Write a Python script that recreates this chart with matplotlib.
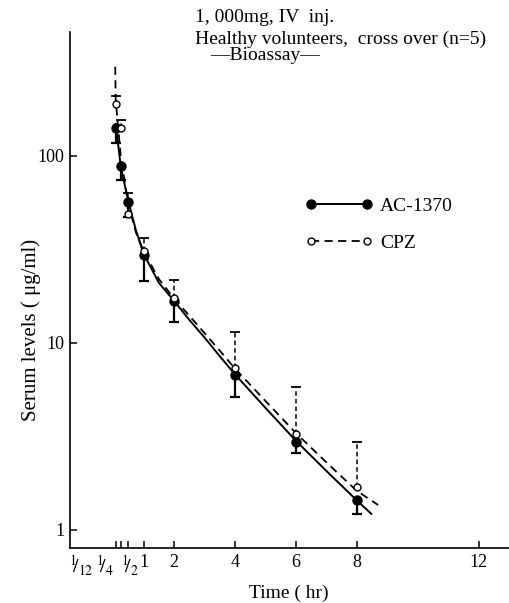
import matplotlib
matplotlib.use('Agg')
import matplotlib.pyplot as plt
from matplotlib.lines import Line2D
import matplotlib.transforms as mtransforms

plt.rcParams['font.family'] = ['Liberation Serif', 'DejaVu Serif']
plt.rcParams['mathtext.fontset'] = 'stix'

# ---- data ----
times = [1/12, 1/4, 1/2, 1, 2, 4, 6, 8]
ac_mean = [141, 88, 57, 29.5, 16.8, 6.74, 2.97, 1.45]
ac_lower = [117, 74, 47, 21.5, 12.9, 5.12, 2.59, 1.21]
cpz_mean = [190, 141, 49, 31, 17.5, 7.38, 3.25, 1.70]
cpz_upper = [208, 156, 63, 36.3, 21.7, 11.5, 5.84, 2.94]

ac_curve_t = [1/12, 0.25, 0.5, 0.75, 1, 1.5, 2, 2.5, 3, 3.5, 4, 5, 6, 7, 8, 8.5]
ac_curve_v = [150, 88, 57, 40, 30, 21, 16.8, 13.3, 10.7, 8.5, 6.8, 4.5, 3.0, 2.07, 1.44, 1.21]
cpz_curve_t = [0.07, 1/12, 0.25, 0.5, 0.75, 1, 1.5, 2, 2.5, 3, 3.5, 4, 5, 6, 7, 8, 8.7]
cpz_curve_v = [300, 200, 100, 55, 39, 31, 22, 17.3, 14, 11.3, 9.1, 7.3, 4.9, 3.3, 2.3, 1.62, 1.36]

xticks = [1/12, 1/4, 1/2, 1, 2, 4, 6, 8, 12]
xtick_labels = ['', '', '', '1', '2', '4', '6', '8', '12']
frac_labels = [r'$^{1}\!\!/_{12}$', r'$^{1}\!\!/_{4}$', r'$^{1}\!\!/_{2}$']
frac_label_x = [-1.05, -0.27, 0.55]
yticks = [1, 10, 100]
ytick_labels = ['1', '10', '100']

FS = 13
FT = 14
W, H = 510, 603
fig = plt.figure(figsize=(W / 100, H / 100), dpi=100)
ax = fig.add_axes([70 / W, 1 - 548 / H, 440 / W, 516 / H])
ax.set_yscale('log')
ax.set_xlim(-1.415, 13.03)
ax.set_ylim(0.801, 460)

for s in ['top', 'right']:
    ax.spines[s].set_visible(False)
for s in ['left', 'bottom']:
    ax.spines[s].set_linewidth(1.2)

ax.set_xticks(xticks)
ax.set_xticklabels(xtick_labels, fontsize=FS)
ax.set_yticks(yticks)
ax.set_yticklabels(ytick_labels, fontsize=FS)
ax.yaxis.set_minor_locator(matplotlib.ticker.NullLocator())
ax.tick_params(axis='both', direction='in', length=5, width=1.1, pad=4)

trans = mtransforms.blended_transform_factory(ax.transData, ax.transAxes)
for lx, lab in zip(frac_label_x, frac_labels):
    ax.text(lx, -0.010, lab, transform=trans, ha='center', va='top', fontsize=FS + 1)

# curves
ax.plot(ac_curve_t, ac_curve_v, color='k', lw=1.4, solid_capstyle='butt', zorder=2)
ax.plot(cpz_curve_t, cpz_curve_v, color='k', lw=1.3, ls=(0, (4.5, 3)), zorder=2)

# error bars
ax.vlines(times, ac_lower, ac_mean, colors='k', lw=1.6, zorder=3)
ax.plot(times, ac_lower, ls='none', marker='_', ms=7, mew=1.6, color='k', zorder=3)
ax.vlines(times, cpz_mean, cpz_upper, colors='k', lw=1.1, linestyles=(0, (3, 2)), zorder=3)
ax.plot(times, cpz_upper, ls='none', marker='_', ms=7, mew=1.3, color='k', zorder=3)

# markers
ax.plot(times, ac_mean, ls='none', marker='o', ms=6.5, mfc='k', mec='k', zorder=5)
ax.plot(times, cpz_mean, ls='none', marker='o', ms=5, mfc='white', mec='k', mew=1.0, zorder=6)

# legend
h1 = Line2D([], [], color='k', lw=1.4, marker='o', ms=6.5, mfc='k', mec='k')
h2 = Line2D([], [], color='k', lw=1.3, ls=(0, (4.5, 3)), marker='o', ms=5, mfc='white', mec='k')
leg = ax.legend([h1, h2], ['AC-1370', 'CPZ'], loc='upper left',
                bbox_to_anchor=((305 - 70) / 440, (548 - 197) / 516),
                frameon=False, numpoints=2, handlelength=3.5, handletextpad=0.35,
                labelspacing=1.0, borderpad=0, borderaxespad=0, fontsize=FT)

ax.set_xlabel('Time ( hr)', fontsize=FT)
ax.xaxis.set_label_coords((289 - 70) / 440, -(593 - 548) / 516)
ax.xaxis.label.set_va('center')
ax.set_ylabel('Serum levels ( μg/ml)', fontsize=15)
ax.yaxis.set_label_coords(-(70 - 31) / 440, (548 - 330) / 516)
ax.yaxis.label.set_va('center')

fig.text(195 / W, 1 - 17 / H, '1, 000mg, IV  inj.', fontsize=FT, ha='left', va='center')
fig.text(195 / W, 1 - 39 / H, 'Healthy volunteers,  cross over (n=5)', fontsize=FT, ha='left', va='center')
fig.text(210 / W, 1 - 56 / H, '—Bioassay—', fontsize=FT, ha='left', va='center')

fig.savefig('out.png', dpi=100)
